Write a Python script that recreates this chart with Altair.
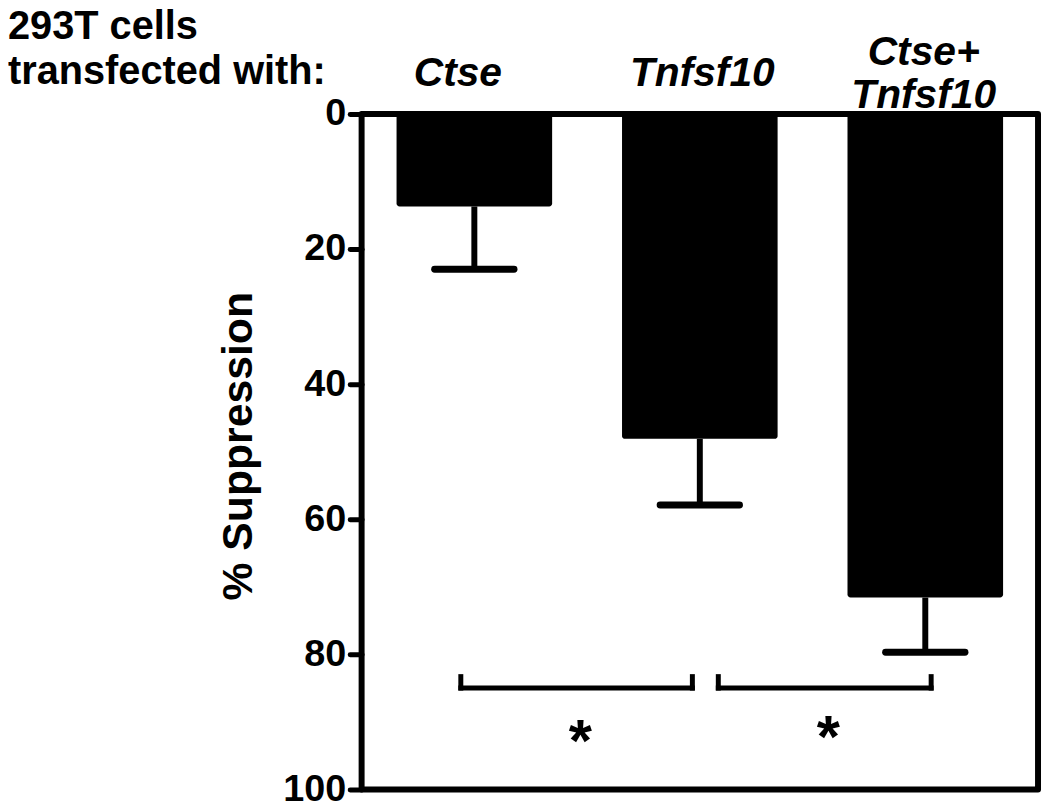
import altair as alt
import pandas as pd

# ---- data ----
categories = ["Ctse", "Tnfsf10", "Ctse+Tnfsf10"]
label_text = ["Ctse", "Tnfsf10", "Ctse+\nTnfsf10"]
label_x = [0.427, 1.511, 2.493]
xpos = [0.5, 1.5, 2.5]
means = [13.7, 48.1, 71.6]
err_top = [23.0, 57.9, 79.7]

y_ticks = [0, 20, 40, 60, 80, 100]

# significance brackets (x from/to, y top of legs / y of bar)
br_x1 = [0.44, 1.582]
br_x2 = [1.467, 2.526]
br_ytop = [83.3, 83.3]
br_y = [85.0, 85.0]
star_x = [0.97, 2.07]
star_y = [90.8, 90.2]

FONT = "Liberation Sans"
BAR_HALF = 0.345
CAP_HALF = 0.176

bars = pd.DataFrame({"cat": categories, "x": xpos, "mean": means, "top": err_top})
cat_labels = pd.DataFrame({"label": label_text, "x": label_x})
brackets = pd.DataFrame({"x1": br_x1, "x2": br_x2, "ytop": br_ytop, "y": br_y})
stars = pd.DataFrame({"x": star_x, "y": star_y, "t": ["*", "*"]})

xscale = alt.Scale(domain=[0, 3], nice=False, zero=False)
yscale = alt.Scale(domain=[0, 100], reverse=True, nice=False)

base = alt.Chart(bars)

bar_layer = base.transform_calculate(
    xl=f"datum.x - {BAR_HALF}", xr=f"datum.x + {BAR_HALF}"
).mark_bar(color="black", cornerRadius=3).encode(
    x=alt.X("xl:Q", scale=xscale, axis=None),
    x2="xr:Q",
    y=alt.Y("mean:Q", scale=yscale,
            axis=alt.Axis(values=y_ticks, title="% Suppression", titleY=334)),
    y2=alt.datum(0),
)

stem = base.mark_rule(color="black", strokeWidth=6).encode(
    x=alt.X("x:Q", scale=xscale, axis=None),
    y=alt.Y("mean:Q", scale=yscale),
    y2="top:Q",
)

cap = base.transform_calculate(
    cl=f"datum.x - {CAP_HALF}", cr=f"datum.x + {CAP_HALF}"
).mark_rule(color="black", strokeWidth=7, strokeCap="round").encode(
    x=alt.X("cl:Q", scale=xscale, axis=None),
    x2="cr:Q",
    y=alt.Y("top:Q", scale=yscale),
)

label_style = dict(
    font=FONT, fontSize=41, fontWeight="bold", fontStyle="italic",
    baseline="middle", align="center", lineBreak="\n", lineHeight=43,
    color="black",
)
labels_single = alt.Chart(cat_labels).transform_filter(
    "indexof(datum.label, '\\n') < 0"
).mark_text(**label_style).encode(
    x=alt.X("x:Q", scale=xscale, axis=None),
    y=alt.value(-40),
    text="label:N",
)
labels_multi = alt.Chart(cat_labels).transform_filter(
    "indexof(datum.label, '\\n') >= 0"
).mark_text(**label_style, dy=-21.5).encode(
    x=alt.X("x:Q", scale=xscale, axis=None),
    y=alt.value(-40),
    text="label:N",
)

br_h = alt.Chart(brackets).mark_rule(color="black", strokeWidth=5, strokeCap="square").encode(
    x=alt.X("x1:Q", scale=xscale, axis=None), x2="x2:Q",
    y=alt.Y("y:Q", scale=yscale),
)
br_l = alt.Chart(brackets).mark_rule(color="black", strokeWidth=5, strokeCap="square").encode(
    x=alt.X("x1:Q", scale=xscale, axis=None),
    y=alt.Y("ytop:Q", scale=yscale), y2="y:Q",
)
br_r = alt.Chart(brackets).mark_rule(color="black", strokeWidth=5, strokeCap="square").encode(
    x=alt.X("x2:Q", scale=xscale, axis=None),
    y=alt.Y("ytop:Q", scale=yscale), y2="y:Q",
)

star_layer = alt.Chart(stars).mark_text(
    font=FONT, fontSize=60, fontWeight="bold", color="black",
    baseline="alphabetic", dy=34,
).encode(
    x=alt.X("x:Q", scale=xscale, axis=None),
    y=alt.Y("y:Q", scale=yscale),
    text="t:N",
)

header = alt.Chart(pd.DataFrame({"t": ["293T cells\ntransfected with:"]})).mark_text(
    font=FONT, fontSize=40, fontWeight="bold", align="left",
    baseline="alphabetic", lineBreak="\n", lineHeight=45, color="black",
).encode(
    x=alt.value(-356), y=alt.value(-75), text="t:N",
)

chart = alt.layer(
    bar_layer, stem, cap, labels_single, labels_multi,
    br_h, br_l, br_r, star_layer, header
).properties(
    width=681, height=680,
    autosize=alt.AutoSizeParams(type="none"),
    padding={"left": 356, "top": 104, "right": 4, "bottom": 16},
).configure_view(
    stroke="black", strokeWidth=6, strokeJoin="round",
).configure_axisY(
    labelFont=FONT, labelFontSize=38, labelFontWeight="bold", labelColor="black",
    tickColor="black", tickWidth=5, tickSize=12, tickCap="round",
    labelPadding=4, domain=False, grid=False,
    titleFont=FONT, titleFontSize=43, titleFontWeight="bold", titleColor="black",
    titlePadding=22,
)

chart.save("out.html", embed_options={"renderer": "svg", "actions": False})
